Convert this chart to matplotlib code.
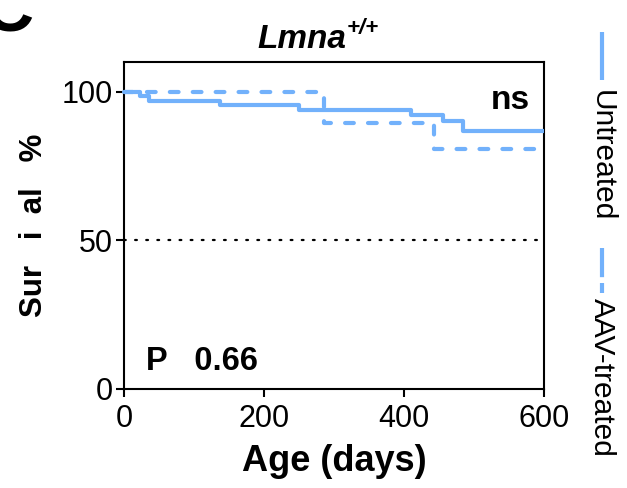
import numpy as np
import matplotlib as mpl
import matplotlib.pyplot as plt
from matplotlib.lines import Line2D

plt.rcParams['font.family'] = ['Liberation Sans', 'DejaVu Sans']

# Kaplan-Meier step data
untreated_days = [0, 23, 36, 137, 250, 410, 456, 484, 600]
untreated_surv = [100, 98.5, 97.0, 95.7, 94.0, 92.3, 90.0, 86.7, 86.7]
aav_days = [0, 285, 443, 600]
aav_surv = [100, 89.6, 80.6, 80.6]

series_labels = ['Untreated', 'AAV-treated']
line_color = '#72b1fb'
xticks = [0, 200, 400, 600]
yticks = [0, 50, 100]

W, H = 627, 488
fig = plt.figure(figsize=(W / 100, H / 100), dpi=100)
ax = fig.add_axes([124 / W, 1 - 389 / H, (544 - 124) / W, (389 - 62) / H])

ax.step(untreated_days, untreated_surv, where='post', color=line_color, lw=3.0,
        solid_capstyle='butt', clip_on=False, zorder=3)
ax.step(aav_days, aav_surv, where='post', color=line_color, lw=3.0,
        dashes=(2.1, 3.4), dash_capstyle='round', clip_on=False, zorder=3)
ax.axhline(50, color='black', lw=1.6, dashes=(0.8, 4.2), dash_capstyle='round', zorder=2)

ax.set_xlim(0, 600)
ax.set_ylim(0, 110)
ax.set_xticks(xticks)
ax.set_yticks(yticks)
ax.tick_params(axis='both', labelsize=22, width=1.5, length=6, direction='out', pad=2)
ax.tick_params(axis='x', pad=5)
for s in ax.spines.values():
    s.set_linewidth(1.5)

ax.set_xlabel('Age (days)', fontsize=26, fontweight='bold', labelpad=7)
ax.set_ylabel('Sur   i  al   %', fontsize=22.5, fontweight='bold', labelpad=9)

ax.text(580, 97, 'ns', fontsize=24, fontweight='bold', ha='right', va='center')
ax.text(32, 6.5, 'P   0.66', fontsize=23.5, fontweight='bold', ha='left', va='baseline')

# title with superscript genotype
fig.text(346 / W, 1 - 48 / H, 'Lmna', fontsize=24, fontweight='bold', fontstyle='italic',
         ha='right', va='baseline')
fig.text(347 / W, 1 - 34 / H, '+/+', fontsize=16, fontweight='bold', fontstyle='italic',
         ha='left', va='baseline')

# panel letter, mostly cut off at the top edge
fig.text(-18 / W, 1 - 31 / H, 'C', fontsize=51, fontweight='bold', ha='left', va='baseline')

# rotated legend on the right
fig.add_artist(Line2D([602 / W, 602 / W], [1 - 32 / H, 1 - 80 / H], color=line_color,
                      lw=3.0, solid_capstyle='butt'))
fig.text(602 / W, 1 - 90 / H, series_labels[0], fontsize=21.5, rotation=-90,
         ha='center', va='top')
fig.add_artist(Line2D([602 / W, 602 / W], [1 - 248 / H, 1 - 293 / H], color=line_color,
                      lw=3.0, dashes=(7.0, 1.4), dash_capstyle='butt'))
fig.text(602 / W, 1 - 298 / H, series_labels[1], fontsize=21.5, rotation=-90,
         ha='center', va='top')

plt.savefig('out.png', dpi=100)
